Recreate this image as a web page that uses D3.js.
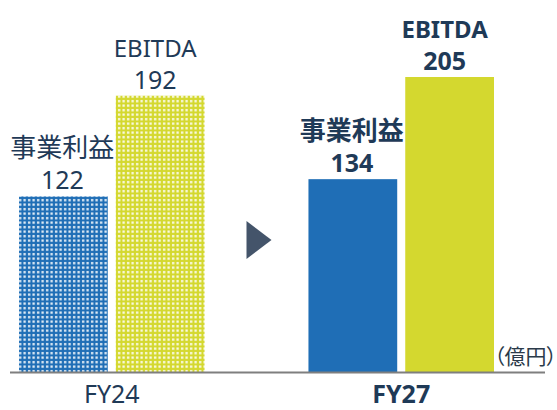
<!DOCTYPE html>
<html><head><meta charset="utf-8">
<script src="https://cdn.jsdelivr.net/npm/d3@7"></script>
<style>
html,body{margin:0;padding:0;background:#fff;}
svg{display:block;}
text{font-family:"Noto Sans","Noto Sans CJK JP",sans-serif;}
</style></head>
<body>
<svg id="chart" width="557" height="410"></svg>
<script>
const categories = ["FY24", "FY27"];
const seriesNames = ["事業利益", "EBITDA"];
const opProfit = [122, 134];
const ebitda = [192, 205];
const unitLabel = "（億円）";

const W = 557, H = 410;
const svg = d3.select("#chart");
const textColor = "#1f3a57";
const colors = {"事業利益": "#1f6eb6", "EBITDA": "#d4d82f"};

const defs = svg.append("defs");
seriesNames.forEach((s, i) => {
  const p = defs.append("pattern").attr("id", "pat" + i)
    .attr("patternUnits", "userSpaceOnUse").attr("width", 4.5).attr("height", 4.5);
  p.append("rect").attr("width", 4.5).attr("height", 4.5).attr("fill", colors[s]);
  p.append("rect").attr("x", 1).attr("y", 1).attr("width", 2.3).attr("height", 2.3).attr("fill", "#fff").attr("opacity", 0.9);
});

const baseY = 372;
const y = d3.scaleLinear().domain([0, 205]).range([baseY, 77]);
const x0 = d3.scaleBand().domain(categories).range([19, 494]).paddingInner(0.359).paddingOuter(0);
const x1 = d3.scaleBand().domain(seriesNames).range([0, x0.bandwidth()]).paddingInner(0.083).paddingOuter(0);

const rows = [];
categories.forEach((c, i) => {
  rows.push({cat: c, ci: i, s: seriesNames[0], si: 0, v: opProfit[i]});
  rows.push({cat: c, ci: i, s: seriesNames[1], si: 1, v: ebitda[i]});
});

svg.selectAll("rect.bar").data(rows).join("rect").attr("class", "bar")
  .attr("x", d => x0(d.cat) + x1(d.s))
  .attr("y", d => y(d.v))
  .attr("width", x1.bandwidth())
  .attr("height", d => baseY - y(d.v))
  .attr("fill", d => d.ci === 0 ? `url(#pat${d.si})` : colors[d.s]);

// labels
rows.forEach(d => {
  const cx = x0(d.cat) + x1(d.s) + x1.bandwidth() / 2 + (d.si === 1 ? -5 : -1);
  const bold = d.ci === 1;
  const ny = y(d.v) - 7;
  svg.append("text").attr("x", cx).attr("y", ny)
    .attr("text-anchor", "middle").attr("font-size", 25)
    .attr("font-weight", bold ? 700 : 400).attr("fill", textColor).text(d.v);
  svg.append("text").attr("x", cx).attr("y", ny - 32)
    .attr("text-anchor", "middle").attr("font-size", d.si === 0 ? 26 : 24)
    .attr("font-weight", bold ? 700 : 400).attr("fill", textColor).text(d.s);
});

// baseline axis
const xAxis = d3.axisBottom(x0).tickSize(0).tickPadding(0);
const ax = svg.append("g").attr("transform", `translate(0,${baseY})`).call(xAxis);
ax.select(".domain").remove();
ax.selectAll("text").attr("font-size", 25).attr("fill", textColor)
  .attr("dy", 0).attr("y", 31)
  .attr("font-weight", (d, i) => i === 1 ? 700 : 400)
  .style("font-family", '"Noto Sans","Noto Sans CJK JP",sans-serif');
svg.append("line").attr("x1", 10).attr("x2", 545).attr("y1", baseY + 0.5).attr("y2", baseY + 0.5)
  .attr("stroke", "#7f7f7f").attr("stroke-width", 2);

// unit
svg.append("text").attr("x", 494).attr("y", 364).attr("font-size", 21)
  .style("font-feature-settings", '"palt"')
  .attr("fill", "#2b3a4a").text(unitLabel);

// arrow
const midX = (x0(categories[0]) + x0.bandwidth() + x0(categories[1])) / 2;
const ay = 240;
svg.append("path")
  .attr("d", `M${midX - 10},${ay - 19}L${midX + 15},${ay}L${midX - 10},${ay + 19}Z`)
  .attr("fill", "#44546a");
</script>
</body></html>
